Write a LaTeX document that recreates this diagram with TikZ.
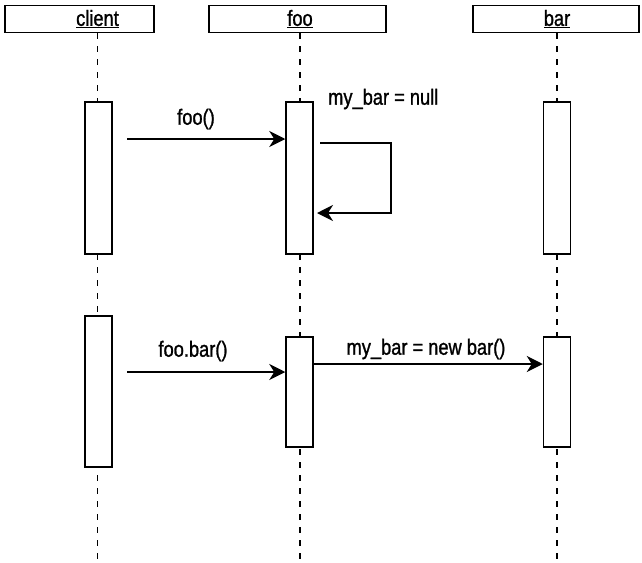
\documentclass[tikz,border=0pt]{standalone}
\usepackage{fontspec}
\setmainfont{Liberation Sans}[FakeStretch=0.83, FakeBold=1.2]
\usetikzlibrary{arrows.meta}

\tikzset{
  head/.style={draw, line width=1.5pt, minimum height=27, inner sep=0pt},
  headtxt/.style={inner sep=0pt, font=\fontsize{22}{24}\selectfont},
  act/.style={draw, fill=white, line width=1.5pt, minimum width=27, inner sep=0pt, anchor=north},
  life/.style={line width=1.6pt, dash pattern=on 6pt off 7pt},
  msg/.style={line width=1.4pt, -{Stealth[length=16pt, width=16pt, inset=5pt]}},
  lbl/.style={inner sep=0pt, font=\fontsize{22}{24}\selectfont}
}

\begin{document}
\begin{tikzpicture}[x=1pt,y=1pt,yscale=-1]
\useasboundingbox (0,0) rectangle (642,562);

% header boxes
\node[head, minimum width=149] (clientbox) at (79.5,19) {};
\node[head, minimum width=177] (foobox) at (297.5,19) {};
\node[head, minimum width=166] (barbox) at (556,19) {};
\node[headtxt] (client) at (97.5,19) {\underline{client}};
\node[headtxt] (foo) at (300,19) {\underline{foo}};
\node[headtxt] (bar) at (557,19) {\underline{bar}};

% lifelines
\coordinate (cend) at (97.5,562);
\coordinate (fend) at (300,562);
\coordinate (bend) at (557,562);
\draw[life] (clientbox.south -| client) -- (cend);
\draw[life] (foobox.south -| foo) -- (fend);
\draw[life] (barbox.south -| bar) -- (bend);

% activations, first call
\node[act, minimum height=152] (cact1) at (98.5,101) {};
\node[act, minimum height=152] (fact1) at (299.5,101) {};
\node[act, minimum height=152] (bact1) at (557,101) {};

% activations, second call
\node[act, minimum height=151] (cact2) at (98.5,315) {};
\node[act, minimum height=110] (fact2) at (299.5,336) {};
\node[act, minimum height=110] (bact2) at (557,336) {};

% foo()
\coordinate (m1) at (127,139);
\draw[msg] (m1) -- (m1 -| fact1.west);
\node[lbl] (l1) at (196,119) {foo()};

% self call
\coordinate (s1) at (320,143);
\coordinate (s2) at (317,213);
\draw[msg] (s1) -- ++(71,0) |- (s2);
\node[lbl, anchor=west] (l2) at (328,99) {my\_bar = null};

% foo.bar()
\coordinate (m2) at (127,372);
\draw[msg] (m2) -- (m2 -| fact2.west);
\node[lbl] (l3) at (193,351) {foo.bar()};

% new bar
\path (fact2.north east) ++(0,28) coordinate (m3);
\draw[msg] (m3) -- (m3 -| bact2.west);
\node[lbl] (l4) at (426,349) {my\_bar = new bar()};

\end{tikzpicture}
\end{document}
